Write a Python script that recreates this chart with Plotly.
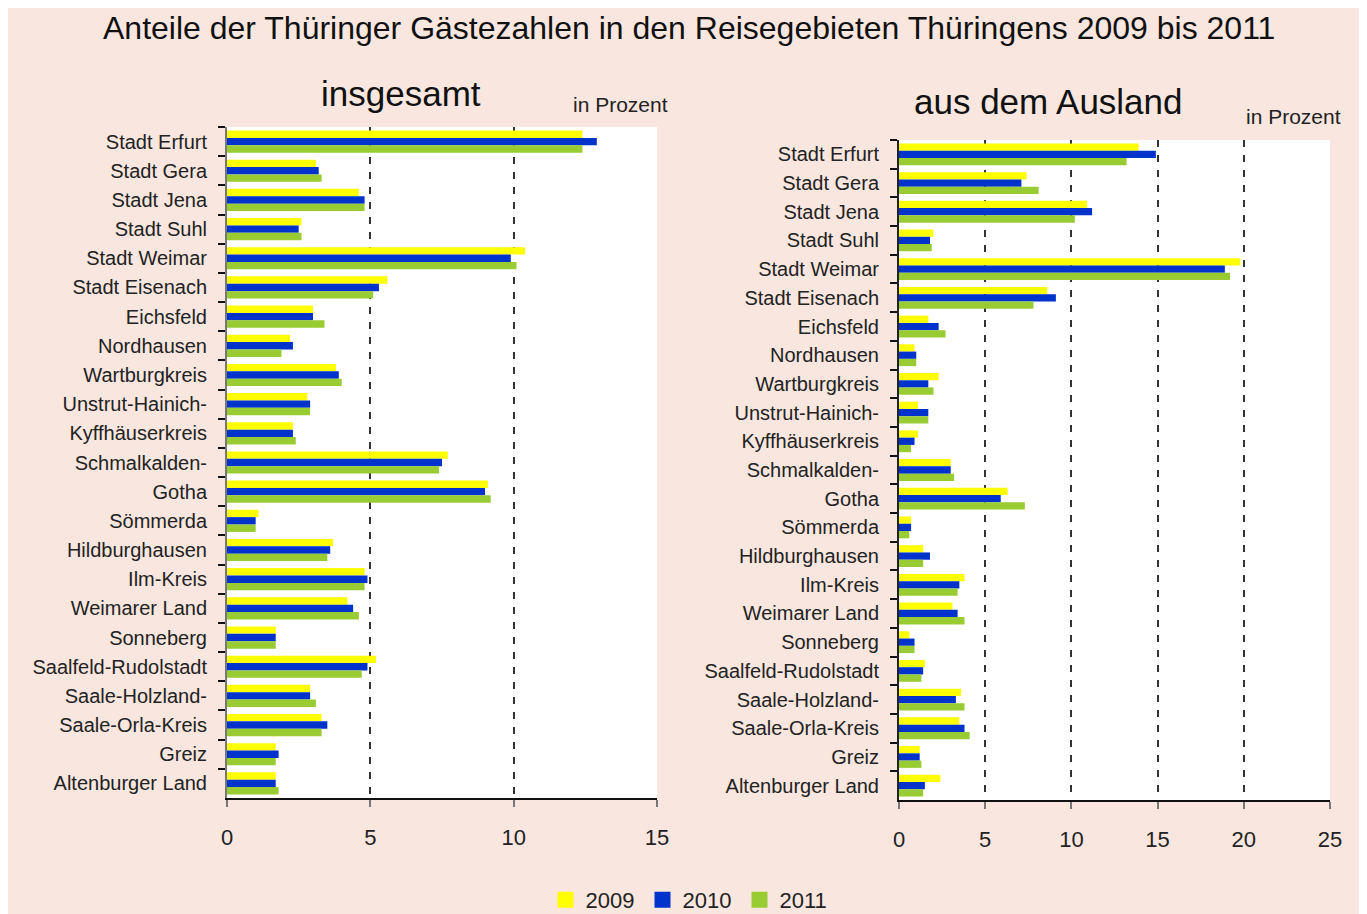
import plotly.graph_objects as go

# Reisegebiete (top to bottom as in the chart)
regions = [
    "Stadt Erfurt", "Stadt Gera", "Stadt Jena", "Stadt Suhl", "Stadt Weimar",
    "Stadt Eisenach", "Eichsfeld", "Nordhausen", "Wartburgkreis", "Unstrut-Hainich-",
    "Kyffhäuserkreis", "Schmalkalden-", "Gotha", "Sömmerda", "Hildburghausen",
    "Ilm-Kreis", "Weimarer Land", "Sonneberg", "Saalfeld-Rudolstadt", "Saale-Holzland-",
    "Saale-Orla-Kreis", "Greiz", "Altenburger Land",
]
years = ["2009", "2010", "2011"]

# insgesamt, in Prozent
total_2009 = [12.4, 3.1, 4.6, 2.6, 10.4, 5.6, 3.0, 2.2, 3.8, 2.8, 2.3, 7.7, 9.1, 1.1, 3.7, 4.8, 4.2, 1.7, 5.2, 2.9, 3.3, 1.7, 1.7]
total_2010 = [12.9, 3.2, 4.8, 2.5, 9.9, 5.3, 3.0, 2.3, 3.9, 2.9, 2.3, 7.5, 9.0, 1.0, 3.6, 4.9, 4.4, 1.7, 4.9, 2.9, 3.5, 1.8, 1.7]
total_2011 = [12.4, 3.3, 4.8, 2.6, 10.1, 5.1, 3.4, 1.9, 4.0, 2.9, 2.4, 7.4, 9.2, 1.0, 3.5, 4.8, 4.6, 1.7, 4.7, 3.1, 3.3, 1.7, 1.8]

# aus dem Ausland, in Prozent
foreign_2009 = [13.9, 7.4, 10.9, 2.0, 19.8, 8.6, 1.7, 0.9, 2.3, 1.1, 1.1, 3.0, 6.3, 0.7, 1.4, 3.8, 3.1, 0.6, 1.5, 3.6, 3.5, 1.2, 2.4]
foreign_2010 = [14.9, 7.1, 11.2, 1.8, 18.9, 9.1, 2.3, 1.0, 1.7, 1.7, 0.9, 3.0, 5.9, 0.7, 1.8, 3.5, 3.4, 0.9, 1.4, 3.3, 3.8, 1.2, 1.5]
foreign_2011 = [13.2, 8.1, 10.2, 1.9, 19.2, 7.8, 2.7, 1.0, 2.0, 1.7, 0.7, 3.2, 7.3, 0.6, 1.4, 3.4, 3.8, 0.9, 1.3, 3.8, 4.1, 1.3, 1.4]

colors = ["#FFFF00", "#0033CC", "#99CC33"]
BG = "#F9E7DF"
FONT = "Liberation Sans, Arial, sans-serif"

W, H = 1367, 914
# the page puts the figure 8px in from the top-left corner
OFF_X, OFF_Y = 7, 8


def px_x(p):
    return (p - OFF_X) / W


def px_y(p):
    return 1 - (p - OFF_Y) / H


fig = go.Figure()

for vals, color, year in zip([total_2009, total_2010, total_2011], colors, years):
    fig.add_trace(go.Bar(
        x=vals, y=regions, orientation="h", marker_color=color, marker_line_width=0,
        name=year, showlegend=False, xaxis="x", yaxis="y",
    ))

for vals, color, year in zip([foreign_2009, foreign_2010, foreign_2011], colors, years):
    fig.add_trace(go.Bar(
        x=vals, y=regions, orientation="h", marker_color=color, marker_line_width=0,
        name=year, showlegend=False, xaxis="x2", yaxis="y2",
    ))

# legend entries with bigger square symbols
for color, year in zip(colors, years):
    fig.add_trace(go.Scatter(
        x=[None], y=[None], mode="markers", name=year,
        marker=dict(symbol="square", size=16, color=color),
        xaxis="x", yaxis="y",
    ))

xaxis_common = dict(
    showgrid=True, gridcolor="#333333", griddash="7px,8px", gridwidth=1.5,
    zeroline=False, showline=True, linecolor="#111111", linewidth=1.5,
    ticks="outside", ticklen=7, tickcolor="#777777", tickwidth=1.5,
    tickfont=dict(family=FONT, size=22, color="#222222"),
    ticklabelstandoff=12, automargin=False, fixedrange=True,
)
yaxis_common = dict(
    type="category", autorange="reversed", showgrid=False, zeroline=False,
    showline=True, linewidth=2, ticks="outside", tickson="boundaries",
    ticklen=7, tickcolor="#111111", tickwidth=1.5,
    tickfont=dict(family=FONT, size=20, color="#222222"),
    ticklabelstandoff=14, automargin=False, fixedrange=True,
)

fig.update_layout(
    width=W, height=H,
    margin=dict(l=0, r=0, t=0, b=0),
    paper_bgcolor=BG, plot_bgcolor="white",
    barmode="group", bargap=0.24, bargroupgap=0,
    xaxis=dict(domain=[px_x(226), px_x(656)], range=[0, 15], dtick=5, anchor="y", **xaxis_common),
    yaxis=dict(domain=[px_y(798), px_y(127)], anchor="x", linecolor="#777777", **yaxis_common),
    xaxis2=dict(domain=[px_x(898), px_x(1329)], range=[0, 25], dtick=5, anchor="y2", **xaxis_common),
    yaxis2=dict(domain=[px_y(800), px_y(140)], anchor="x2", linecolor="#222222", **yaxis_common),
    legend=dict(
        orientation="h", x=px_x(690), xanchor="center", y=px_y(900), yanchor="middle",
        font=dict(family=FONT, size=22, color="#222222"),
        bgcolor="rgba(0,0,0,0)", itemwidth=30, entrywidth=52, tracegroupgap=0,
    ),
    showlegend=True,
)

annotations = [
    dict(text="Anteile der Thüringer Gästezahlen in den Reisegebieten Thüringens 2009 bis 2011",
         x=px_x(688), y=px_y(28), font=dict(family=FONT, size=32, color="#111111")),
    dict(text="insgesamt", x=px_x(400), y=px_y(93),
         font=dict(family=FONT, size=35, color="#111111")),
    dict(text="in Prozent", x=px_x(619), y=px_y(105),
         font=dict(family=FONT, size=21, color="#222222")),
    dict(text="aus dem Ausland", x=px_x(1047), y=px_y(101),
         font=dict(family=FONT, size=35, color="#111111")),
    dict(text="in Prozent", x=px_x(1292), y=px_y(117),
         font=dict(family=FONT, size=21, color="#222222")),
]
for a in annotations:
    fig.add_annotation(xref="paper", yref="paper", xanchor="center", yanchor="middle",
                       showarrow=False, **a)

fig.write_html("out.html")
